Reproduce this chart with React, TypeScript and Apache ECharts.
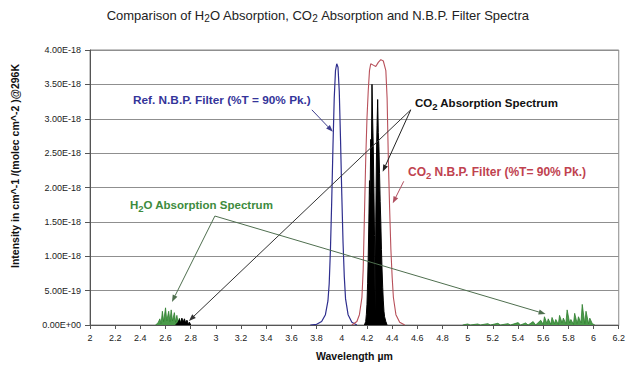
import React, { useEffect, useRef } from "react";
import * as echarts from "echarts";

// Values are in units of 1E-18 (cm^-1/(molec cm^-2))
const FONT = "'Liberation Sans', Arial, sans-serif";

const xMin = 2;
const xMax = 6.2;
const xStep = 0.2;
const yMin = 0;
const yMax = 4;
const yStep = 0.5;

// Reference N.B.P. filter (blue)
const refWl = [3.75, 3.8, 3.84, 3.87, 3.89, 3.9, 3.91, 3.92, 3.93, 3.94, 3.95, 3.96, 3.97, 3.98, 3.99, 4.0, 4.01, 4.02, 4.03, 4.05, 4.08, 4.12];
const refVal = [0, 0.01, 0.05, 0.15, 0.35, 0.6, 1.1, 1.8, 2.6, 3.3, 3.7, 3.8, 3.75, 3.4, 2.7, 1.9, 1.2, 0.7, 0.38, 0.15, 0.04, 0];

// CO2 N.B.P. filter (red)
const co2FilterWl = [4.08, 4.12, 4.14, 4.16, 4.17, 4.18, 4.19, 4.2, 4.21, 4.22, 4.23, 4.25, 4.27, 4.29, 4.31, 4.33, 4.35, 4.36, 4.37, 4.38, 4.39, 4.4, 4.41, 4.43, 4.46, 4.5];
const co2FilterVal = [0, 0.05, 0.15, 0.4, 0.8, 1.6, 2.4, 3.0, 3.4, 3.7, 3.8, 3.78, 3.76, 3.82, 3.86, 3.84, 3.7, 3.3, 2.4, 1.7, 1.1, 0.7, 0.4, 0.15, 0.04, 0];

// CO2 absorption, 4.3 µm band (black)
const co2Wl = [4.18, 4.19, 4.195, 4.2, 4.205, 4.21, 4.215, 4.22, 4.225, 4.23, 4.235, 4.24, 4.245, 4.25, 4.255, 4.26, 4.265, 4.27, 4.275, 4.28, 4.285, 4.29, 4.295, 4.3, 4.305, 4.31, 4.315, 4.32, 4.325, 4.33, 4.335, 4.34, 4.35, 4.36];
const co2Val = [0, 0.05, 0.15, 0.3, 0.6, 1.0, 1.5, 2.1, 1.9, 2.7, 2.4, 3.5, 3.0, 2.6, 2.0, 1.3, 0.2, 1.5, 2.4, 2.9, 3.28, 2.8, 2.6, 2.2, 1.8, 1.5, 1.1, 0.8, 0.55, 0.35, 0.2, 0.12, 0.05, 0];

// CO2 absorption, 2.7 µm band (black)
const co2bWl = [2.68, 2.7, 2.71, 2.72, 2.73, 2.74, 2.75, 2.76, 2.77, 2.78, 2.79, 2.8];
const co2bVal = [0, 0.04, 0.08, 0.03, 0.1, 0.04, 0.09, 0.03, 0.07, 0.02, 0.04, 0];

// H2O absorption (green), 2.6 µm region
const h2oWlA = [2.52, 2.54, 2.555, 2.565, 2.575, 2.585, 2.6, 2.61, 2.625, 2.635, 2.645, 2.655, 2.67, 2.68, 2.69, 2.7, 2.71, 2.72, 2.73, 2.74, 2.76, 2.78];
const h2oValA = [0, 0.03, 0.09, 0.02, 0.2, 0.05, 0.25, 0.06, 0.2, 0.05, 0.22, 0.06, 0.18, 0.04, 0.14, 0.03, 0.1, 0.02, 0.07, 0.01, 0.04, 0];

// H2O absorption (green), 5–6 µm region
const h2oWlB = [4.96, 5.0, 5.02, 5.08, 5.1, 5.16, 5.18, 5.24, 5.26, 5.32, 5.34, 5.4, 5.42, 5.46, 5.48, 5.52, 5.54, 5.58, 5.6, 5.61, 5.63, 5.64, 5.66, 5.67, 5.69, 5.7, 5.72, 5.73, 5.75, 5.76, 5.78, 5.79, 5.81, 5.82, 5.84, 5.85, 5.87, 5.88, 5.9, 5.91, 5.93, 5.94, 5.96, 5.97, 5.99, 6.01];
const h2oValB = [0, 0.015, 0, 0.015, 0, 0.02, 0, 0.025, 0, 0.02, 0, 0.035, 0, 0.03, 0, 0.05, 0, 0.07, 0.01, 0.12, 0.02, 0.09, 0.01, 0.11, 0.02, 0.08, 0.01, 0.14, 0.03, 0.1, 0.02, 0.22, 0.03, 0.08, 0.01, 0.17, 0.02, 0.12, 0.03, 0.3, 0.02, 0.2, 0.02, 0.1, 0.02, 0];

const zip = (a: number[], b: number[]) => a.map((x, i) => [x, b[i]]);

const fmtE = (v: number) => {
  if (Math.abs(v) < 1e-9) return "0.00E+00";
  const [m, e] = (v * 1e-18).toExponential(2).split("e");
  const sign = e[0] === "-" ? "-" : "+";
  const d = e.replace(/[+-]/, "").padStart(2, "0");
  return `${m}E${sign}${d}`;
};

export default function App() {
  const ref = useRef<HTMLDivElement>(null);
  useEffect(() => {
    document.body.style.margin = "0";
    if (!ref.current) return;
    const chart = echarts.init(ref.current, null, { renderer: "svg" });
    const lineSeries = (name: string, data: number[][], color: string, width: number, area?: string, z = 2) => ({
      name,
      type: "line",
      data,
      showSymbol: false,
      symbol: "none",
      z,
      lineStyle: { color, width },
      areaStyle: area ? { color: area, opacity: 1 } : undefined,
    });
    chart.setOption({
      animation: false,
      backgroundColor: "#ffffff",
      grid: { left: 90, right: 9, top: 50, bottom: 48, show: true, borderColor: "#8a8a8a", borderWidth: 1 },
      xAxis: {
        type: "value",
        min: xMin,
        max: xMax,
        interval: xStep,
        name: "Wavelength µm",
        nameLocation: "middle",
        nameGap: 25,
        nameTextStyle: { fontFamily: FONT, fontSize: 10.5, fontWeight: "bold", color: "#111" },
        axisLine: { lineStyle: { color: "#555" } },
        axisTick: { inside: false, length: 4, lineStyle: { color: "#555" } },
        axisLabel: {
          fontFamily: FONT,
          fontSize: 9,
          color: "#222",
          margin: 8,
          formatter: (v: number) => String(Math.round(v * 10) / 10),
        },
        splitLine: { show: false },
      },
      yAxis: {
        type: "value",
        min: yMin,
        max: yMax,
        interval: yStep,
        axisLine: { show: true, lineStyle: { color: "#555" } },
        axisTick: { show: true, length: 5, lineStyle: { color: "#555" } },
        axisLabel: { fontFamily: FONT, fontSize: 9, color: "#222", margin: 9, formatter: fmtE },
        splitLine: { lineStyle: { color: "#8f8f8f", width: 1 } },
      },
      series: [
        lineSeries("H2O A", zip(h2oWlA, h2oValA), "#2f7f2f", 0.8, "#4a9a4a", 3),
        lineSeries("H2O B", zip(h2oWlB, h2oValB), "#2f7f2f", 0.8, "#4a9a4a", 3),
        lineSeries("CO2 2.7", zip(co2bWl, co2bVal), "#000", 1, "#000", 4),
        lineSeries("CO2 4.3", zip(co2Wl, co2Val), "#000", 1, "#000", 4),
        lineSeries("Ref filter", zip(refWl, refVal), "#2e2e8e", 1.2, undefined, 5),
        lineSeries("CO2 filter", zip(co2FilterWl, co2FilterVal), "#b8505a", 1.1, undefined, 5),
      ],
    });

    const px = (p: number[]) => chart.convertToPixel({ gridIndex: 0 }, p) as number[];
    const arrow = (from: number[], to: number[], color: string) => {
      const a = px(from);
      const b = px(to);
      const dx = b[0] - a[0];
      const dy = b[1] - a[1];
      const len = Math.sqrt(dx * dx + dy * dy);
      const ux = dx / len;
      const uy = dy / len;
      const hl = 7;
      const hw = 2.6;
      const bx = b[0] - ux * hl;
      const by = b[1] - uy * hl;
      return [
        { type: "line", z: 50, shape: { x1: a[0], y1: a[1], x2: bx, y2: by }, style: { stroke: color, lineWidth: 1 } },
        {
          type: "polygon",
          z: 50,
          shape: { points: [[b[0], b[1]], [bx - uy * hw, by + ux * hw], [bx + uy * hw, by - ux * hw]] },
          style: { fill: color },
        },
      ];
    };

    const txt = (x: number, y: number, text: string, color: string, size: number, weight = "normal", align = "left", subSize = 9) => ({
      type: "text",
      x,
      y,
      z: 60,
      style: {
        text,
        fill: color,
        fontFamily: FONT,
        fontSize: size,
        fontWeight: weight,
        align,
        verticalAlign: "middle",
        rich: { s: { fontSize: subSize, padding: [7, 0, 0, 0], fontFamily: FONT, fill: color, fontWeight: weight } },
      },
    });

    chart.setOption({
      graphic: [
        txt(318, 15, "Comparison of H{s|2}O Absorption, CO{s|2} Absorption and N.B.P. Filter Spectra", "#222", 13, "normal", "center", 10),
        {
          type: "text",
          x: 15,
          y: 166,
          rotation: Math.PI / 2,
          style: {
            text: "Intensity in cm^-1 /(molec cm^-2 )@296K",
            fill: "#111",
            fontFamily: FONT,
            fontSize: 10.5,
            fontWeight: "bold",
            align: "center",
            verticalAlign: "middle",
          },
        },
        { type: "text", x: 12, y: 100, style: { text: "´", fill: "#111", fontFamily: FONT, fontSize: 10 } },
        txt(133, 100, "Ref. N.B.P. Filter (%T = 90% Pk.)", "#34349a", 11.8, "bold", "left", 9.5),
        txt(415, 103, "CO{s|2} Absorption Spectrum", "#111", 11.5, "bold", "left", 9.5),
        txt(408, 172, "CO{s|2} N.B.P. Filter (%T= 90% Pk.)", "#c0424f", 12, "bold", "left", 9.5),
        txt(130, 205, "H{s|2}O Absorption Spectrum", "#3d8b3d", 11.5, "bold", "left", 9.5),
        ...arrow([3.762, 3.13], [3.929, 2.81], "#3c3c8c"),
        ...arrow([4.548, 3.13], [4.325, 2.23], "#222"),
        ...arrow([4.548, 3.13], [2.786, 0.06], "#333"),
        ...arrow([4.492, 2.09], [4.405, 1.77], "#b05060"),
        ...arrow([2.992, 1.585], [2.651, 0.335], "#4f6f4f"),
        ...arrow([2.992, 1.585], [5.619, 0.16], "#4f6f4f"),
      ],
    });
    return () => chart.dispose();
  }, []);
  return <div ref={ref} style={{ width: 628, height: 373 }} />;
}
